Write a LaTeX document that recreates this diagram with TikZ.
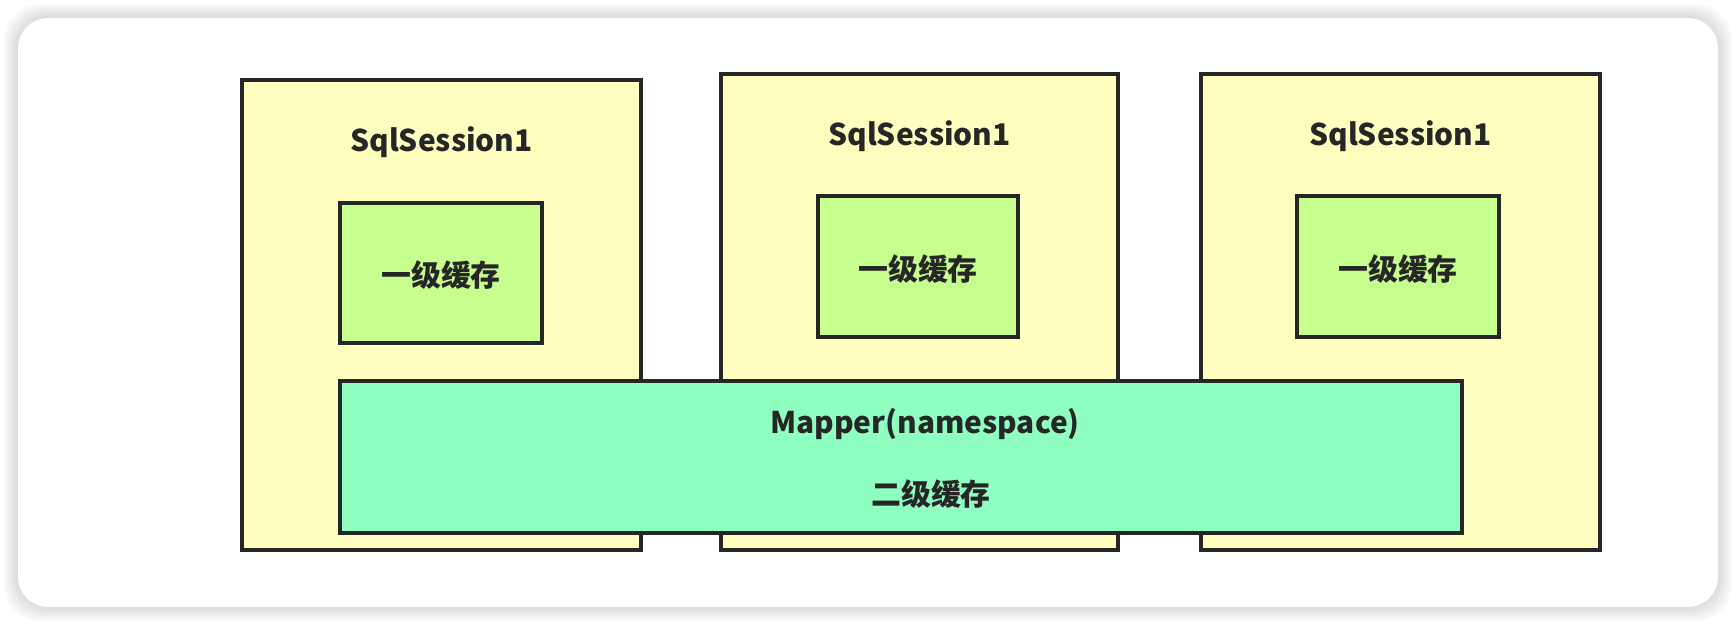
\documentclass[tikz,border=0pt]{standalone}
\usepackage{fontspec}
\setmainfont{Noto Sans CJK SC}
\usetikzlibrary{calc}
\definecolor{sessfill}{HTML}{FFFFC0}
\definecolor{lonefill}{HTML}{C6FF8E}
\definecolor{ltwofill}{HTML}{8EFFC0}
\definecolor{edgegray}{HTML}{262626}
\tikzset{cachebox/.style={draw=edgegray, line width=1.9pt},
    lbl/.style={font=\bfseries\fontsize{17}{20}\selectfont, text=edgegray}}

\begin{document}
\begin{tikzpicture}[x=0.02cm, y=-0.02cm]
    \useasboundingbox (0,0) rectangle (1736,624);
    \fill[white] (0,0) rectangle (1736,624);
    \foreach \d in {14,12,...,2}
        \fill[black, opacity=0.018, rounded corners=0.7cm] (18-\d,18-\d) rectangle (1718+\d,607+\d);
    \fill[white, rounded corners=0.6cm] (18,18) rectangle (1718,607);
    \draw[cachebox, fill=sessfill] (242,80) coordinate (A1) rectangle (641,550) coordinate (B1);
    \draw[cachebox, fill=sessfill] (721,74) coordinate (A2) rectangle (1118,550) coordinate (B2);
    \draw[cachebox, fill=sessfill] (1201,74) coordinate (A3) rectangle (1600,550) coordinate (B3);
    \draw[cachebox, fill=lonefill] (340,203) coordinate (C1) rectangle (542,343) coordinate (D1);
    \draw[cachebox, fill=lonefill] (818,196) coordinate (C2) rectangle (1018,337) coordinate (D2);
    \draw[cachebox, fill=lonefill] (1297,196) coordinate (C3) rectangle (1499,337) coordinate (D3);
    \draw[cachebox, fill=ltwofill] (340,381) coordinate (M1) rectangle (1462,533) coordinate (M2);
    \node[lbl] (sess1) at ($(A1)!0.5!(B1|-A1) + (0,62)$) {SqlSession1};
    \node[lbl] (sess2) at ($(A2)!0.5!(B2|-A2) + (0,62)$) {SqlSession1};
    \node[lbl] (sess3) at ($(A3)!0.5!(B3|-A3) + (0,62)$) {SqlSession1};
    \node[lbl] (lone1) at ($(C1)!0.5!(D1) + (0,2)$) {一级缓存};
    \node[lbl] (lone2) at ($(C2)!0.5!(D2) + (0,3)$) {一级缓存};
    \node[lbl] (lone3) at ($(C3)!0.5!(D3) + (0,3)$) {一级缓存};
    \node[lbl] (mapper) at (925,424) {Mapper(namespace)};
    \node[lbl] (ltwo) at (931,494) {二级缓存};
\end{tikzpicture}
\end{document}
